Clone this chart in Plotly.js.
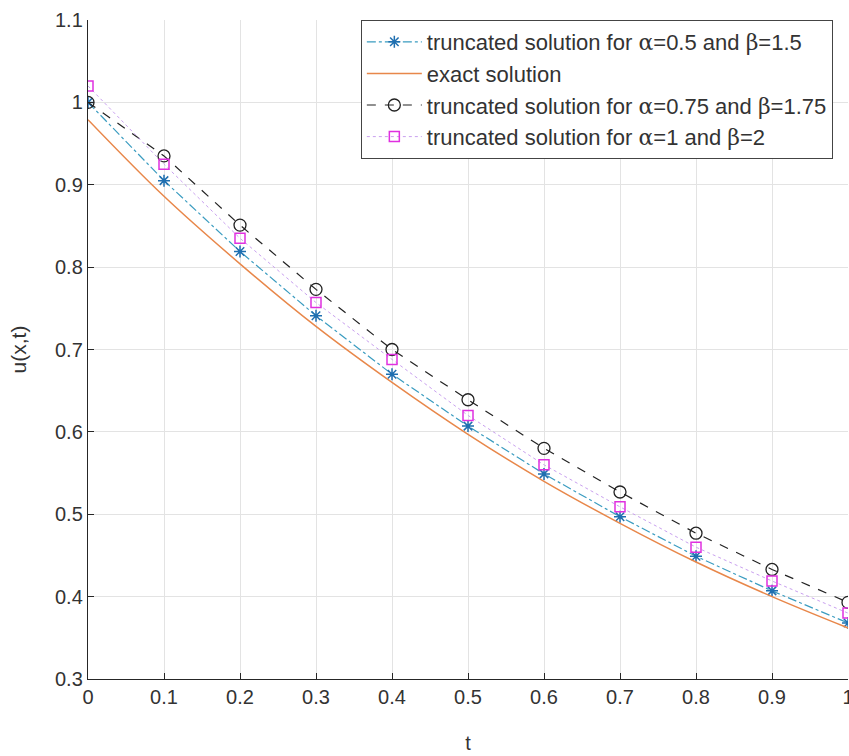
<!DOCTYPE html>
<html>
<head>
<meta charset="utf-8">
<script src="https://cdn.plot.ly/plotly-3.0.1.min.js"></script>
<style>html,body{margin:0;padding:0;background:#fff;}#chart{width:849px;height:756px;}</style>
</head>
<body>
<div id="chart"></div>
<script>
const tValues = [0, 0.1, 0.2, 0.3, 0.4, 0.5, 0.6, 0.7, 0.8, 0.9, 1.0];
const truncA05 = [1.0, 0.905, 0.819, 0.741, 0.670, 0.607, 0.549, 0.497, 0.449, 0.407, 0.368];
const exactSol = [0.979, 0.886, 0.804, 0.728, 0.660, 0.597, 0.540, 0.489, 0.442, 0.400, 0.362];
const truncA075 = [1.0, 0.935, 0.851, 0.773, 0.700, 0.639, 0.580, 0.527, 0.477, 0.433, 0.393];
const truncA1 = [1.02, 0.925, 0.835, 0.757, 0.688, 0.620, 0.560, 0.509, 0.460, 0.419, 0.380];
const xTicks = [0, 0.1, 0.2, 0.3, 0.4, 0.5, 0.6, 0.7, 0.8, 0.9, 1];
const xTickText = ['0', '0.1', '0.2', '0.3', '0.4', '0.5', '0.6', '0.7', '0.8', '0.9', '1'];
const yTicks = [0.3, 0.4, 0.5, 0.6, 0.7, 0.8, 0.9, 1, 1.1];
const yTickText = ['0.3', '0.4', '0.5', '0.6', '0.7', '0.8', '0.9', '1', '1.1'];

const G = '<span style="font-family:DejaVu Serif">';
const traces = [
  {x: tValues, y: truncA05, mode: 'lines+markers', name: 'truncated solution for ' + G + 'α</span>=0.5 and ' + G + 'β</span>=1.5',
   line: {color: '#3a9cc0', width: 1.2, dash: 'dashdot'},
   marker: {symbol: 'asterisk', size: 10, color: '#1f6fb0', line: {color: '#1f6fb0', width: 1.5}}},
  {x: tValues, y: exactSol, mode: 'lines', name: 'exact solution',
   line: {color: '#e8874a', width: 1.5, shape: 'spline'}},
  {x: tValues, y: truncA075, mode: 'lines+markers', name: 'truncated solution for ' + G + 'α</span>=0.75 and ' + G + 'β</span>=1.75',
   line: {color: '#222222', width: 1.2, dash: 'dash'},
   marker: {symbol: 'circle-open', size: 12, color: '#222222', line: {color: '#222222', width: 1.3}}},
  {x: tValues, y: truncA1, mode: 'lines+markers', name: 'truncated solution for ' + G + 'α</span>=1 and ' + G + 'β</span>=2',
   line: {color: '#c9a0ef', width: 1, dash: 'dot'},
   marker: {symbol: 'square-open', size: 10, color: '#e030e0', line: {color: '#e030e0', width: 1.5}}}
];

const layout = {
  width: 849, height: 756,
  margin: {l: 88, r: 1, t: 20, b: 77},
  paper_bgcolor: '#ffffff', plot_bgcolor: '#ffffff',
  font: {family: 'Liberation Sans, Arial, sans-serif', size: 20, color: '#333333'},
  showlegend: true,
  legend: {x: 0.359, y: 1, xanchor: 'left', yanchor: 'top', bgcolor: '#ffffff',
    bordercolor: '#444444', borderwidth: 1, font: {size: 22, color: '#333333'},
    tracegroupgap: 0, itemwidth: 55},
  xaxis: {range: [0, 1], tickvals: xTicks, ticktext: xTickText, showgrid: true, gridcolor: '#e3e3e3',
    zeroline: false, showline: true, linecolor: '#262626', linewidth: 1.2, ticks: 'inside', ticklen: 6,
    tickcolor: '#262626', ticklabeloverflow: 'allow', tickfont: {size: 20},
    title: {text: 't', font: {size: 20}, standoff: 28}, mirror: false},
  yaxis: {range: [0.3, 1.1], tickvals: yTicks, ticktext: yTickText, showgrid: true, gridcolor: '#e3e3e3',
    zeroline: false, showline: true, linecolor: '#262626', linewidth: 1.2, ticks: 'inside', ticklen: 6,
    tickcolor: '#262626', tickfont: {size: 20},
    title: {text: 'u(x,t)', font: {size: 21}, standoff: 22}, mirror: false}
};
Plotly.newPlot('chart', traces, layout, {displayModeBar: false, staticPlot: true});
</script>
</body>
</html>
